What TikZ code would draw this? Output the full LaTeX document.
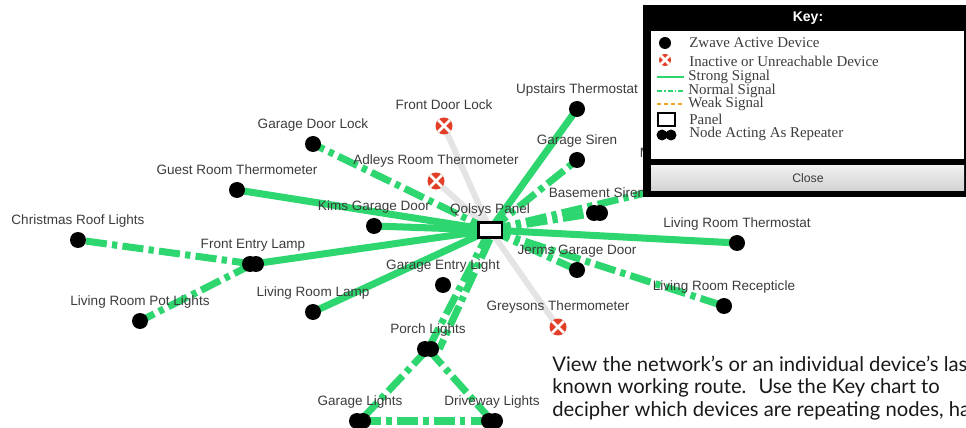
\documentclass[tikz,border=0pt]{standalone}
\usepackage{fontspec}
\setmainfont{Liberation Sans}
\newfontfamily\keyfont{Liberation Serif}
\newfontfamily\capfont{Lato}
\usetikzlibrary{backgrounds}
\definecolor{sig}{RGB}{46,214,111}
\definecolor{xred}{RGB}{226,62,40}
\definecolor{labgray}{RGB}{60,60,60}
\definecolor{deadgray}{RGB}{228,228,228}
\definecolor{weakorange}{RGB}{245,160,40}

\begin{document}
\begin{tikzpicture}[x=0.02cm, y=-0.02cm,
    lbl/.style={font=\fontsize{7.7}{9}\selectfont, text=labgray, text height=0.75em, text depth=0.25em, inner sep=1.5pt},
    dev/.style={circle, fill=black, inner sep=0pt, minimum size=0.32cm},
    rep/.style={inner sep=0pt, minimum width=0.44cm, minimum height=0.32cm,
        path picture={\fill ([xshift=-0.06cm]path picture bounding box.center) circle (0.16cm)
                            ([xshift=0.06cm]path picture bounding box.center) circle (0.16cm);}},
    dead/.style={circle, fill=xred, inner sep=0pt, minimum size=0.34cm,
        path picture={\draw[white, line width=1.6pt]
            (path picture bounding box.north west)--(path picture bounding box.south east)
            (path picture bounding box.north east)--(path picture bounding box.south west);}},
    strongsig/.style={sig, line width=4pt},
    normalsig/.style={sig, line width=4pt, dash pattern=on 12pt off 3pt on 3pt off 3pt},
    deadsig/.style={deadgray, line width=3.4pt},
    keytxt/.style={font=\keyfont\fontsize{8.5}{9}\selectfont, text=labgray, anchor=west, inner sep=0pt},
]
\path[use as bounding box, clip] (0,0) rectangle (966,428);

% panel and devices
\node[draw, line width=1.7pt, fill=white, inner sep=0pt, minimum width=0.48cm, minimum height=0.3cm,
      label={[lbl]above:Qolsys Panel}] (panel) at (490,230) {};
\node[dev, label={[lbl]above:Upstairs Thermostat}] (ut) at (577,109) {};
\node[dead, label={[lbl]above:Front Door Lock}] (fdl) at (444,126) {};
\node[dev, label={[lbl]above:Garage Door Lock}] (gdl) at (313,144) {};
\node[dev, label={[lbl]above:Garage Siren}] (gs) at (577,160) {};
\node[dead, label={[lbl]above:Adleys Room Thermometer}] (art) at (436,181) {};
\node[dev, label={[lbl]above:Guest Room Thermometer}] (grt) at (237,190) {};
\node[rep, label={[lbl]above:Basement Siren}] (bs) at (597,213) {};
\node[dev, label={[lbl]above:Kims Garage Door}] (kgd) at (374,226) {};
\node[dev, label={[lbl]above:Christmas Roof Lights}] (crl) at (78,240) {};
\node[rep, label={[lbl]above:Front Entry Lamp}] (fel) at (253,264) {};
\node[dev, label={[lbl]above:Living Room Thermostat}] (lrt) at (737,243) {};
\node[dev, label={[lbl]above:Jerms Garage Door}] (jgd) at (577,270) {};
\node[dev, label={[lbl]above:Garage Entry Light}] (gel) at (443,285) {};
\node[dev, label={[lbl]above:Living Room Lamp}] (lrl) at (313,312) {};
\node[dev, label={[lbl]above:Living Room Pot Lights}] (lrpl) at (140,321) {};
\node[dev, label={[lbl]above:Living Room Recepticle}] (lrr) at (724,306) {};
\node[dead, label={[lbl]above:Greysons Thermometer}] (gt) at (558,327) {};
\node[rep, label={[lbl]above:Porch Lights}] (pl) at (428,349) {};
\node[rep, label={[lbl]above:Garage Lights}] (gl) at (360,421) {};
\node[rep, label={[lbl]above:Driveway Lights}] (dl) at (492,421) {};
\coordinate (mst) at (700,180);
\node[lbl, anchor=west] (mlbl) at (637,153) {M};

% routes
\begin{scope}[on background layer]
\fill[white] (0,0) rectangle (966,428);
\foreach \d in {fdl, art, gt}
    \draw[deadsig] (panel.center) -- (\d.center);
\foreach \d in {ut, grt, kgd, fel, lrl, lrt}
    \draw[strongsig] (panel.center) -- (\d.center);
\foreach \d in {gdl, gs, bs, mst, jgd, lrr, pl}
    \draw[normalsig] (panel.center) -- (\d.center);
\draw[normalsig] (panel.south) -- (pl.east);
\draw[normalsig] (fel.center) -- (crl.center);
\draw[normalsig] (fel.center) -- (lrpl.center);
\draw[normalsig] (pl.center) -- (gl.center);
\draw[normalsig] (pl.center) -- (dl.center);
\draw[normalsig] (gl.center) -- (dl.center);
\end{scope}

% key
\fill[black] (643,5) rectangle (970,197);
\fill[white] (651,31) rectangle (964,159);
\shade[top color=gray!12, bottom color=gray!35] (651,166) rectangle (964,191);
\node[font=\bfseries\fontsize{8}{9}\selectfont, text=white] (keyttl) at (808,18) {Key:};
\node[font=\fontsize{7}{8}\selectfont, text=labgray] (close) at (808,178) {Close};
\fill (665,43) circle (0.12cm);
\node[dead, minimum size=0.24cm] (kx) at (665,60) {};
\draw[sig, line width=1.2pt] (657,77) -- (684,77);
\draw[sig, line width=1.2pt, dash pattern=on 3pt off 1pt on 1pt off 1pt] (657,91) -- (684,91);
\draw[weakorange, line width=1.2pt, dash pattern=on 2pt off 2pt] (657,104) -- (684,104);
\draw[line width=1.3pt] (658,113) rectangle (675,126);
\fill (662,135) circle (0.11cm) (671,135) circle (0.11cm);
\node[keytxt] (k1) at (689,43) {Zwave Active Device};
\node[keytxt] (k2) at (689,61) {Inactive or Unreachable Device};
\node[keytxt] (k3) at (688,77) {Strong Signal};
\node[keytxt] (k4) at (688,91) {Normal Signal};
\node[keytxt] (k5) at (688,104) {Weak Signal};
\node[keytxt] (k6) at (689,119) {Panel};
\node[keytxt] (k7) at (689,134) {Node Acting As Repeater};

% caption
\node[font=\capfont\fontsize{11.5}{12.6}\selectfont, text=black!90, anchor=north west, align=left, inner sep=0pt]
    (cap) at (552,356) {View the network’s or an individual device’s last\\
    known working route.~ Use the Key chart to\\
    decipher which devices are repeating nodes, have};
\end{tikzpicture}
\end{document}
